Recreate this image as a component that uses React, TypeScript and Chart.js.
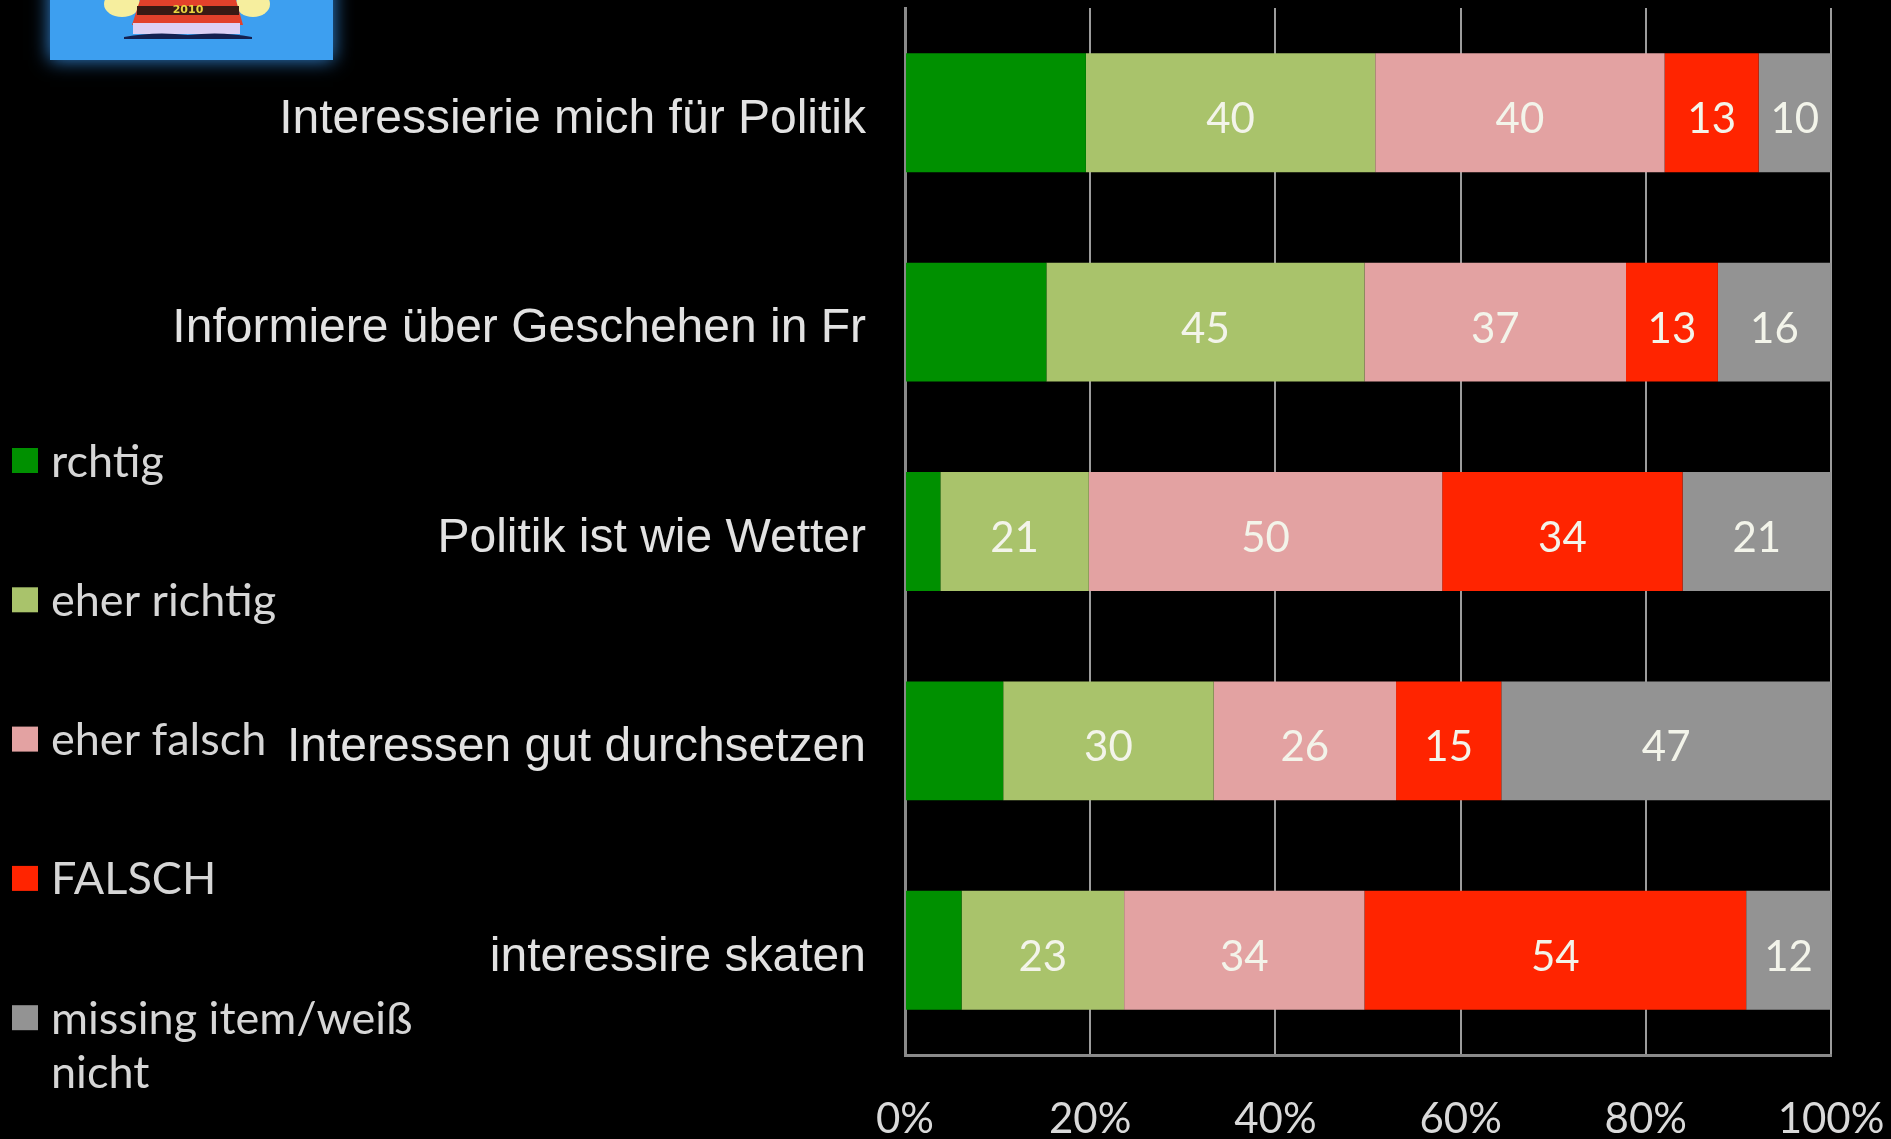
import React, { useEffect, useRef } from "react";
import { Chart, registerables } from "chart.js";

Chart.register(...registerables);

// ---- data ----
const categories = [
  "Interessierie mich für Politik",
  "Informiere über Geschehen in Fr",
  "Politik ist wie Wetter",
  "Interessen gut durchsetzen",
  "interessire skaten",
];
const seriesNames = ["rchtig", "eher richtig", "eher falsch", "FALSCH", "missing item/weiß nicht"];
const richtig = [25, 20, 5, 14, 8];
const eherRichtig = [40, 45, 21, 30, 23];
const eherFalsch = [40, 37, 50, 26, 34];
const falsch = [13, 13, 34, 15, 54];
const missing = [10, 16, 21, 47, 12];
const xTickValues = [0, 20, 40, 60, 80, 100];

const seriesValues = [richtig, eherRichtig, eherFalsch, falsch, missing];
const seriesColors = ["#009000", "#a9c36b", "#e3a2a2", "#ff2400", "#939393"];
const showValueLabel = [false, true, true, true, true];

const W = 1891;
const H = 1139;

const totals = categories.map((_, i) => seriesValues.reduce((s, arr) => s + arr[i], 0));

const bgPlugin = {
  id: "bgLogo",
  beforeDraw(chart: any) {
    const ctx = chart.ctx as CanvasRenderingContext2D;
    ctx.save();
    ctx.fillStyle = "#000";
    ctx.fillRect(0, 0, chart.width, chart.height);
    // logo box with glow
    ctx.shadowColor = "rgba(60,160,255,0.85)";
    ctx.shadowBlur = 18;
    ctx.fillStyle = "#3d9ff0";
    ctx.fillRect(50, -20, 283, 80);
    ctx.shadowBlur = 0;
    ctx.shadowColor = "transparent";
    // hands
    ctx.fillStyle = "#f6ee9e";
    ctx.beginPath();
    ctx.ellipse(122, 4, 18, 13, 0, 0, Math.PI * 2);
    ctx.fill();
    ctx.beginPath();
    ctx.ellipse(253, 4, 17, 13, 0, 0, Math.PI * 2);
    ctx.fill();
    // body
    ctx.fillStyle = "#e2412b";
    ctx.beginPath();
    ctx.moveTo(140, 0);
    ctx.lineTo(236, 0);
    ctx.lineTo(243, 25);
    ctx.lineTo(132, 25);
    ctx.closePath();
    ctx.fill();
    ctx.fillStyle = "#3a1a14";
    ctx.fillRect(137, 6, 102, 9);
    ctx.fillStyle = "#e8d440";
    ctx.font = "bold 11px 'DejaVu Sans', sans-serif";
    ctx.textAlign = "center";
    ctx.textBaseline = "middle";
    ctx.fillText("2010", 188, 10);
    // book
    ctx.fillStyle = "#dcd0f4";
    ctx.fillRect(133, 23, 107, 11);
    ctx.fillStyle = "#142050";
    ctx.beginPath();
    ctx.moveTo(124, 37);
    ctx.quadraticCurveTo(155, 31, 188, 35);
    ctx.quadraticCurveTo(222, 31, 252, 37);
    ctx.lineTo(252, 39);
    ctx.lineTo(124, 39);
    ctx.closePath();
    ctx.fill();
    ctx.restore();
  },
};

const valueLabelPlugin = {
  id: "valueLabels",
  afterDatasetsDraw(chart: any) {
    const ctx = chart.ctx as CanvasRenderingContext2D;
    ctx.save();
    ctx.font = "42px Lato, 'Open Sans', sans-serif";
    ctx.fillStyle = "#f3f4ea";
    ctx.textAlign = "center";
    ctx.textBaseline = "middle";
    chart.data.datasets.forEach((ds: any, di: number) => {
      if (!showValueLabel[di]) return;
      const meta = chart.getDatasetMeta(di);
      meta.data.forEach((el: any, i: number) => {
        const p = el.getProps(["x", "y", "base"], true);
        const cx = (p.x + p.base) / 2;
        ctx.fillText(String(ds.rawValues[i]), cx, p.y + 7);
      });
    });
    ctx.restore();
  },
};

const legendPlugin = {
  id: "sideLegend",
  afterDraw(chart: any) {
    const ctx = chart.ctx as CanvasRenderingContext2D;
    ctx.save();
    ctx.font = "45px Lato, 'Open Sans', sans-serif";
    ctx.textBaseline = "middle";
    ctx.textAlign = "left";
    const startY = 462;
    const step = 139.3;
    const maxW = 380;
    chart.data.datasets.forEach((ds: any, i: number) => {
      const y = startY + i * step;
      ctx.fillStyle = ds.backgroundColor;
      ctx.fillRect(12, y - 14, 26, 25);
      const words = String(ds.label).split(" ");
      const lines: string[] = [];
      let cur = "";
      words.forEach((w) => {
        const t = cur ? cur + " " + w : w;
        if (ctx.measureText(t).width > maxW && cur) {
          lines.push(cur);
          cur = w;
        } else cur = t;
      });
      if (cur) lines.push(cur);
      ctx.fillStyle = "#d6d6d6";
      lines.forEach((ln, li) => ctx.fillText(ln, 51, y + li * 54));
    });
    ctx.restore();
  },
};

export default function App() {
  const ref = useRef<HTMLCanvasElement | null>(null);

  useEffect(() => {
    document.body.style.margin = "0";
    document.body.style.background = "#000";
    const canvas = ref.current;
    if (!canvas) return;
    const datasets = seriesNames.map((name, si) => ({
      label: name,
      data: seriesValues[si].map((v, i) => (v / totals[i]) * 100),
      rawValues: seriesValues[si],
      backgroundColor: seriesColors[si],
      borderWidth: 0,
      barPercentage: 0.568,
      categoryPercentage: 1,
      stack: "s",
    }));
    const chart = new Chart(canvas, {
      type: "bar",
      data: { labels: categories, datasets: datasets as any },
      options: {
        indexAxis: "y",
        responsive: false,
        animation: false,
        devicePixelRatio: 1,
        layout: { padding: { left: 0, top: 8, right: 60, bottom: 0 } },
        plugins: {
          legend: { display: false },
          tooltip: { enabled: false },
        },
        scales: {
          x: {
            stacked: true,
            min: 0,
            max: 100,
            afterBuildTicks: (scale: any) => {
              scale.ticks = xTickValues.map((v) => ({ value: v }));
            },
            ticks: {
              callback: (v: any) => v + "%",
              color: "#d9d9d9",
              font: { family: "Lato, 'Open Sans', sans-serif", size: 42 },
              padding: 39,
              maxRotation: 0,
            },
            grid: { color: "#9c9c9c", lineWidth: 2, drawTicks: false },
            border: { display: true, color: "#8a8a8a", width: 3 },
            afterFit: (scale: any) => {
              scale.height = 84;
              scale.paddingLeft = 0;
              scale.paddingRight = 0;
            },
          },
          y: {
            stacked: true,
            ticks: {
              color: "#e2e2e2",
              font: { family: "'Liberation Sans', Arial, sans-serif", size: 48 },
              padding: 39,
              labelOffset: 7,
            },
            grid: { display: false, drawTicks: false },
            border: { display: true, color: "#8a8a8a", width: 3 },
            afterFit: (scale: any) => {
              scale.width = 905;
              scale.paddingTop = 0;
              scale.paddingBottom = 0;
            },
          },
        },
      },
      plugins: [bgPlugin, valueLabelPlugin, legendPlugin],
    });
    return () => chart.destroy();
  }, []);

  return (
    <div style={{ position: "fixed", left: 0, top: 0, width: W, height: H, background: "#000" }}>
      <canvas ref={ref} width={W} height={H} style={{ display: "block", width: W, height: H }} />
    </div>
  );
}
